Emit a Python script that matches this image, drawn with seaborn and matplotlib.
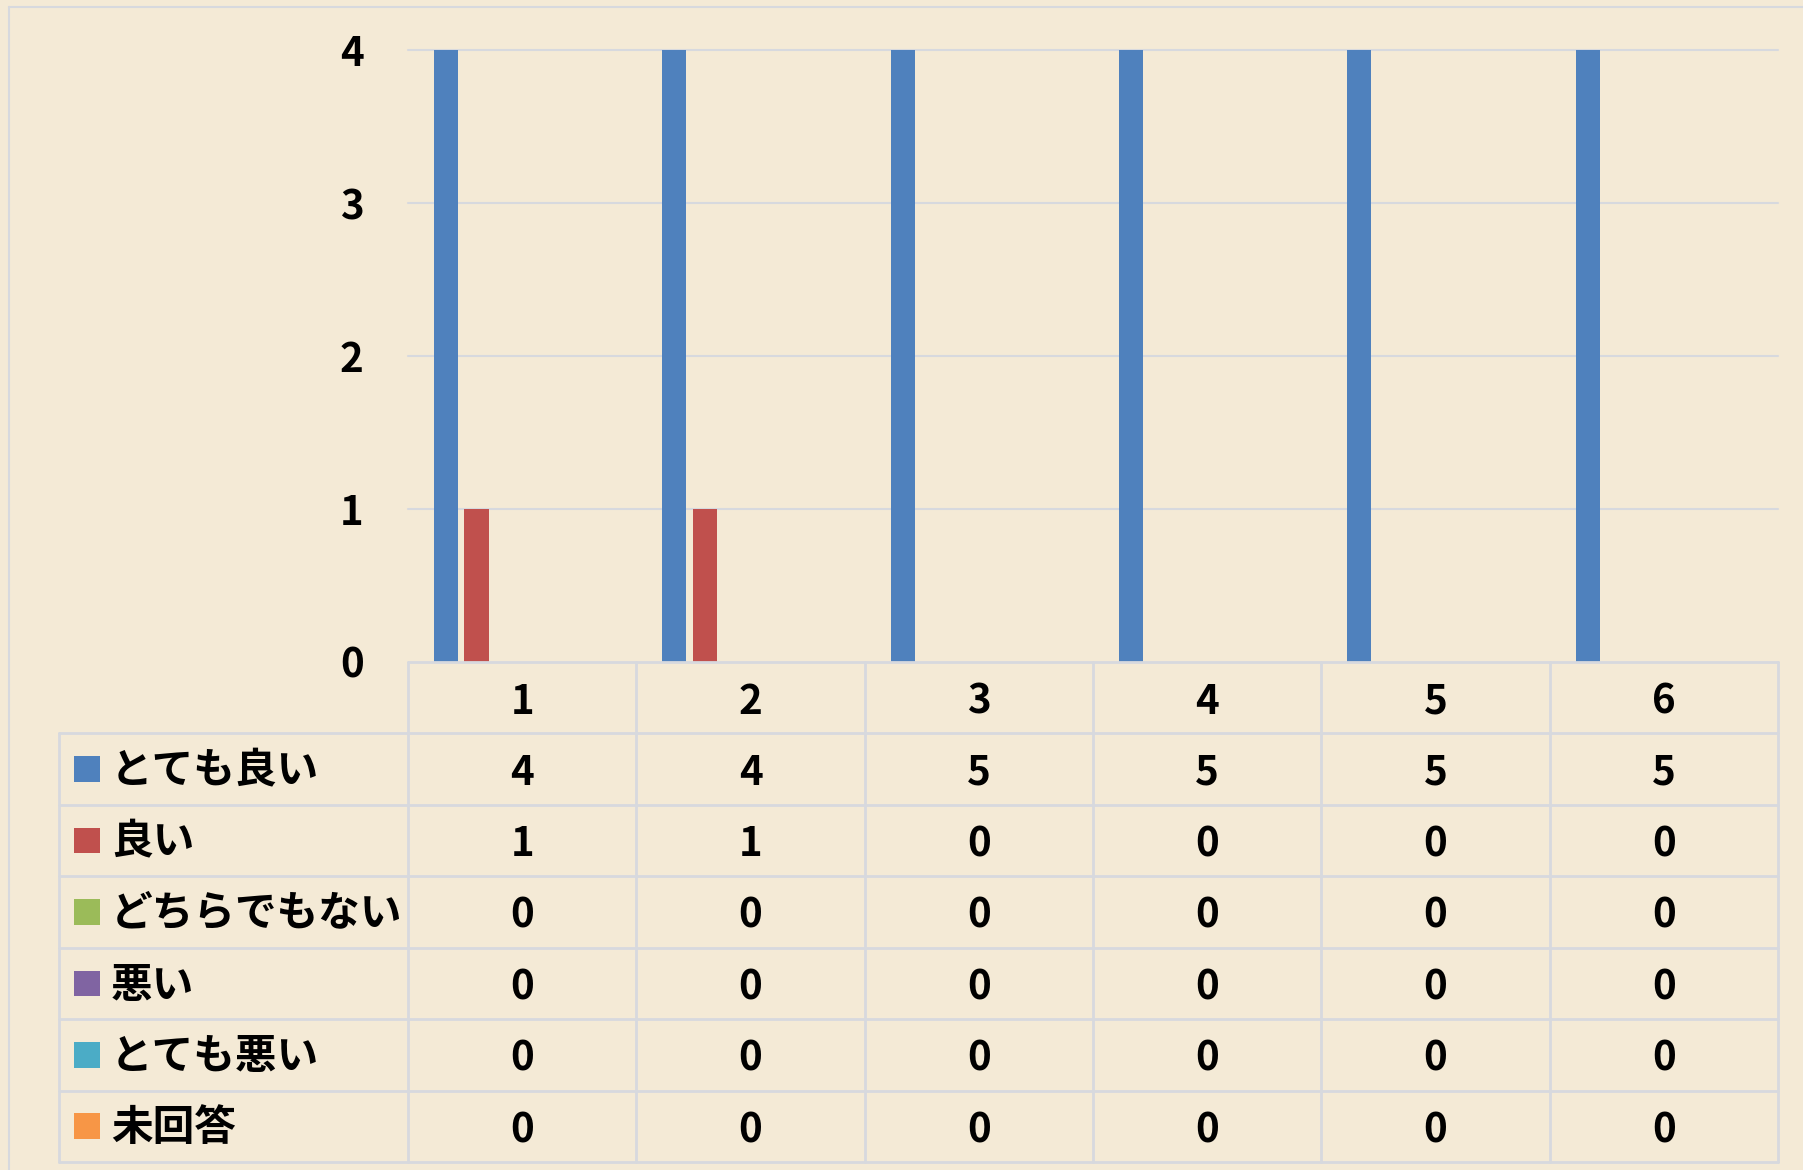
import numpy as np
import pandas as pd
import matplotlib
matplotlib.use("Agg")
import matplotlib.pyplot as plt
import seaborn as sns

# data
questions = ["1", "2", "3", "4", "5", "6"]
answers = ["とても良い", "良い", "どちらでもない", "悪い", "とても悪い", "未回答"]
very_good = [4, 4, 5, 5, 5, 5]
good = [1, 1, 0, 0, 0, 0]
neutral = [0, 0, 0, 0, 0, 0]
bad = [0, 0, 0, 0, 0, 0]
very_bad = [0, 0, 0, 0, 0, 0]
no_answer = [0, 0, 0, 0, 0, 0]
y_ticks = [0, 1, 2, 3, 4]

colors = ["#4F81BD", "#C0504D", "#9BBB59", "#8064A2", "#4BACC6", "#F79646"]
BG = "#F4EAD6"
LINE = "#D7D9DE"

series = [very_good, good, neutral, bad, very_bad, no_answer]
rows = []
for name, vals in zip(answers, series):
    for q, v in zip(questions, vals):
        rows.append({"question": q, "answer": name, "count": v})
df = pd.DataFrame(rows)

sns.set_theme(style="white")
plt.rcParams["font.family"] = ["Noto Sans CJK JP", "DejaVu Sans"]
plt.rcParams["text.color"] = "black"

W, H = 1803, 1170
fig = plt.figure(figsize=(W / 100, H / 100), dpi=100, facecolor=BG)

# pixel layout
px_left, px_right = 408, 1778
px_top, px_zero = 50, 662
tbl_left, tbl_bottom = 59, 1162

ax = fig.add_axes([px_left / W, 1 - px_zero / H, (px_right - px_left) / W, (px_zero - px_top) / H])
ax.set_facecolor("none")
sns.barplot(data=df, x="question", y="count", hue="answer", hue_order=answers,
            order=questions, palette=colors, width=0.80, saturation=1,
            linewidth=0, legend=False, ax=ax)
for p in ax.patches:
    w = p.get_width()
    p.set_x(p.get_x() + w * 0.105)
    p.set_width(w * 0.79)

ax.set_xlim(-0.5, len(questions) - 0.5)
ax.set_ylim(0, 4)
ax.set_yticks(y_ticks)
ax.set_yticklabels([str(t) for t in y_ticks], fontsize=29, fontweight="bold", color="black")
ax.tick_params(axis="y", length=0, pad=32)
ax.set_xticks([])
ax.set_xlabel("")
ax.set_ylabel("")
for s in ax.spines.values():
    s.set_visible(False)
for t in y_ticks[1:]:
    ax.axhline(t, color=LINE, lw=1.5, zorder=0, clip_on=False)

# data table under the chart
cat_px = (px_right - px_left) / len(questions)
x_min = -0.5 - (px_left - tbl_left) / cat_px
n_rows = len(answers) + 1
tax = fig.add_axes([tbl_left / W, 1 - tbl_bottom / H, (px_right - tbl_left) / W, (tbl_bottom - px_zero) / H])
tax.set_facecolor("none")
tax.set_xlim(x_min, len(questions) - 0.5)
tax.set_ylim(n_rows, 0)
tax.axis("off")

tax.plot([-0.5, len(questions) - 0.5], [0, 0], color=LINE, lw=2, clip_on=False)
for r in range(1, n_rows + 1):
    tax.plot([x_min, len(questions) - 0.5], [r, r], color=LINE, lw=2, clip_on=False)
tax.plot([x_min, x_min], [1, n_rows], color=LINE, lw=2, clip_on=False)
for c in range(len(questions) + 1):
    tax.plot([c - 0.5, c - 0.5], [0, n_rows], color=LINE, lw=2, clip_on=False)

dy = 0.56
for i, q in enumerate(questions):
    tax.text(i, dy, q, ha="center", va="center", fontsize=29, fontweight="bold")

sq_w = 26 / cat_px
for r, (name, vals, col) in enumerate(zip(answers, series, colors), start=1):
    sx = x_min + 15 / cat_px
    tax.add_patch(plt.Rectangle((sx, r + 0.5 - 0.18), sq_w, 0.36, color=col, lw=0))
    tax.text(x_min + 52 / cat_px, r + 0.53, name, ha="left", va="center",
             fontsize=30, fontweight="bold")
    for i, v in enumerate(vals):
        tax.text(i, r + dy, str(v), ha="center", va="center", fontsize=29, fontweight="bold")

# outer chart border
fig.add_artist(plt.Line2D([9 / W, 9 / W], [0, 1 - 7 / H], color=LINE, lw=1.5))
fig.add_artist(plt.Line2D([9 / W, 1], [1 - 7 / H, 1 - 7 / H], color=LINE, lw=1.5))

fig.savefig("out.png", dpi=100, facecolor=BG)
